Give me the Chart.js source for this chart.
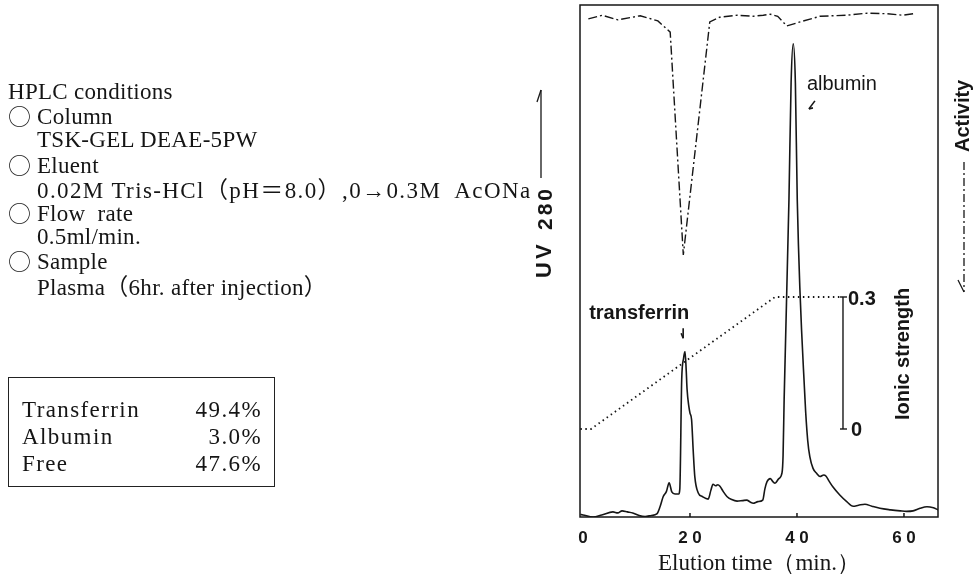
<!DOCTYPE html>
<html lang="en">
<head>
<meta charset="UTF-8">
<title>HPLC elution profile</title>
<script src="https://cdn.jsdelivr.net/npm/chart.js@4.4.1/dist/chart.umd.min.js"></script>
<style>
  body { margin: 0; background: #fff; }
  #wrap { position: relative; width: 975px; height: 580px; overflow: hidden; }
  #chart { position: absolute; left: 0; top: 0; }
  #conditions { position: absolute; left: 8px; top: 80px; font-family: "Liberation Serif", "Times New Roman", serif;
                font-size: 23px; line-height: 24.2px; color: #151515; letter-spacing: 0.3px; white-space: nowrap; }
  #conditions > div { height: 24.2px; overflow: visible; }
  #conditions .ind { padding-left: 29px; }
  #conditions .wide { letter-spacing: 1.4px; }
  .circ { display: inline-block; width: 29px; line-height: 1; vertical-align: -1px;
          font-family: "Noto Sans CJK JP", "DejaVu Sans", sans-serif; font-weight: 300; }
  .fw { font-family: "Noto Sans CJK JP", sans-serif; line-height: 1; }
  #result { position: absolute; left: 8px; top: 377px; width: 240px; padding: 18px 12px 9px 13px;
            border: 1.5px solid #222; font-family: "Liberation Serif", "Times New Roman", serif;
            font-size: 23px; line-height: 27px; color: #151515; letter-spacing: 1.4px; }
  #result .row { display: flex; justify-content: space-between; }
</style>
</head>
<body>
<div id="wrap">
  <canvas id="chart" width="975" height="580"></canvas>
  <div id="conditions">
    <div>HPLC conditions</div>
    <div><span class="circ">○</span>Column</div>
    <div class="ind">TSK-GEL DEAE-5PW</div>
    <div><span class="circ">○</span>Eluent</div>
    <div class="ind wide">0.02M Tris-HCl<span class="fw">（</span>pH<span class="fw">＝</span>8.0<span class="fw">）</span>,0→0.3M&nbsp; AcONa</div>
    <div><span class="circ">○</span>Flow&nbsp; rate</div>
    <div class="ind">0.5ml/min.</div>
    <div><span class="circ">○</span>Sample</div>
    <div class="ind">Plasma<span class="fw">（</span>6hr. after injection<span class="fw">）</span></div>
  </div>
  <div id="result"></div>
</div>

<script>
// UV 280 trace (elution time in min, absorbance in arbitrary units 0-100)
const uvTime = [-0.5, 0, 1.9, 3.5, 5.6, 6.5, 7.3, 8.3, 9.3, 10.5, 11.6, 12.8, 13.8, 14.4, 15.0, 15.6, 16.1, 16.6,
  17.2, 17.9, 18.1, 18.45, 18.8, 19.07, 19.3, 19.45, 19.8, 20.0, 20.3, 20.6, 20.9, 21.55, 22.3, 23.4, 23.9, 24.3,
  24.8, 25.2, 25.6, 26.2, 26.9, 27.8, 28.8, 29.8, 30.6, 31.3, 31.8, 32.7, 33.6, 34.0, 34.4, 35.0, 35.5, 35.9,
  36.6, 37.2, 37.4, 37.6, 38.5, 38.9, 39.3, 39.7, 40.05, 41.5, 42.0, 42.4, 43.0, 43.7, 44.3, 45.0, 45.4, 46.0,
  46.7, 48.0, 49.3, 50.5, 51.5, 52.7, 54.0, 55.5, 57.5, 59.3, 60.5, 61.7, 63.0, 64.3, 65.5, 66.4];
const uvSignal = [0.5, 0.4, 0, 0.4, 1.0, 0.8, 1.2, 1.0, 0.8, 0.3, 0.1, 0.3, 0.6, 2.0, 4.0, 5.0, 6.7, 4.9,
  4.5, 4.5, 5.5, 26.8, 31.0, 32.3, 28.5, 25.0, 21.5, 20.3, 19.0, 13.0, 7.9, 4.7, 4.0, 3.5, 5.2, 6.4,
  6.1, 6.3, 6.0, 5.0, 4.0, 3.4, 3.1, 3.2, 3.3, 2.9, 2.7, 3.0, 3.3, 5.5, 6.9, 7.5, 6.9, 6.6,
  7.5, 8.6, 12.0, 23.0, 62.0, 84.8, 92.4, 84.8, 62.0, 23.0, 15.0, 11.8, 9.5, 8.5, 7.9, 8.2, 8.0, 7.0,
  5.9, 4.3, 3.0, 2.1, 2.3, 2.5, 2.1, 1.7, 1.4, 1.2, 1.1, 1.2, 1.7, 2.0, 1.8, 1.4];

// enzyme activity trace (same arbitrary units, plotted downwards from the top)
const activityTime = [1.0, 3.6, 6.5, 10.7, 14.0, 16.3, 18.75, 23.7, 25.5, 28.8, 31.8, 33.7, 35.0, 36.4, 38.1,
  40.6, 44.3, 49.3, 53.1, 56.8, 59.8, 61.7];
const activitySignal = [97.3, 98.0, 97.1, 97.9, 96.9, 94.7, 51.2, 96.7, 97.6, 98.0, 97.8, 98.0, 98.2, 97.8, 95.9,
  96.7, 97.8, 98.0, 98.4, 98.3, 98.0, 98.3];

// AcONa gradient (ionic strength)
const ionicTime = [-0.5, 1.5, 35.9, 48.6];
const ionicStrength = [0, 0, 0.3, 0.3];

const xTickValues = [0, 20, 40, 60];
const xTickLabels = ['0', '2 0', '4 0', '6 0'];
const ionicTicks = [0, 0.3];
const ionicTickLabels = ['0', '0.3'];
const ionicBarAt = 48.6;

const resultLabels = ['Transferrin', 'Albumin', 'Free'];
const resultValues = ['49.4%', '3.0%', '47.6%'];

const box = document.getElementById('result');
resultLabels.forEach(function(name, i) {
  const row = document.createElement('div');
  row.className = 'row';
  row.innerHTML = '<span>' + name + '</span><span>' + resultValues[i] + '</span>';
  box.appendChild(row);
});

const ink = '#161616';
const sans = '"Liberation Sans", Arial, sans-serif';

function toPoints(xs, ys) {
  return xs.map(function(x, i) { return {x: x, y: ys[i]}; });
}

function spacedText(ctx, text, x, y, gap) {
  for (const ch of text) {
    ctx.fillText(ch, x, y);
    x += ctx.measureText(ch).width + gap;
  }
}

function line(ctx, x1, y1, x2, y2) {
  ctx.beginPath();
  ctx.moveTo(x1, y1);
  ctx.lineTo(x2, y2);
  ctx.stroke();
}

const decorations = {
  id: 'decorations',
  afterDraw(chart) {
    const ctx = chart.ctx;
    const a = chart.chartArea;
    const x = chart.scales.x, y = chart.scales.y, y2 = chart.scales.y2;
    ctx.save();
    ctx.strokeStyle = ink;
    ctx.fillStyle = ink;
    ctx.lineWidth = 1.5;
    ctx.strokeRect(a.left, a.top, a.right - a.left, a.bottom - a.top);

    // small inner ticks on the time axis
    xTickValues.forEach(function(v) {
      if (v === 0) return;
      const px = x.getPixelForValue(v);
      line(ctx, px, a.bottom, px, a.bottom - 4);
    });

    // ionic strength scale bar
    const bx = x.getPixelForValue(ionicBarAt);
    const yLo = y2.getPixelForValue(ionicTicks[0]);
    const yHi = y2.getPixelForValue(ionicTicks[1]);
    ctx.lineWidth = 1.4;
    line(ctx, bx, yLo, bx, yHi);
    line(ctx, bx - 3, yLo, bx + 4, yLo);
    line(ctx, bx - 3, yHi, bx + 4, yHi);
    ctx.font = 'bold 20px ' + sans;
    ctx.textBaseline = 'middle';
    ctx.textAlign = 'left';
    ctx.fillText(ionicTickLabels[1], bx + 5, yHi + 2);
    ctx.fillText(ionicTickLabels[0], bx + 8, yLo + 1);

    // peak names
    ctx.textAlign = 'center';
    ctx.font = 'bold 20px ' + sans;
    const tx = x.getPixelForValue(10.5), ty = y.getPixelForValue(39.8);
    ctx.fillText('transferrin', tx, ty);
    ctx.lineWidth = 1.6;
    line(ctx, tx + 44, ty + 15, tx + 44, ty + 25);
    line(ctx, tx + 42, ty + 20, tx + 44, ty + 25);
    ctx.font = '20px ' + sans;
    const ax = x.getPixelForValue(48.4), ay = y.getPixelForValue(84.4);
    ctx.fillText('albumin', ax, ay);
    line(ctx, ax - 27, ay + 16, ax - 33, ay + 24);
    line(ctx, ax - 33, ay + 24, ax - 29, ay + 23);

    // UV 280 label with arrow
    ctx.save();
    ctx.translate(a.left - 35, 278);
    ctx.rotate(-Math.PI / 2);
    ctx.textAlign = 'left';
    ctx.font = 'bold 22px ' + sans;
    spacedText(ctx, 'UV', 0, 0, 3);
    ctx.font = 'bold 21px ' + sans;
    spacedText(ctx, '280', 48, 1, 3);
    ctx.restore();
    ctx.lineWidth = 1.3;
    line(ctx, a.left - 39, 178, a.left - 39, 90);
    line(ctx, a.left - 39, 90, a.left - 43, 102);

    // Activity label with dash-dot arrow
    ctx.save();
    ctx.translate(a.right + 25, 152);
    ctx.rotate(-Math.PI / 2);
    ctx.textAlign = 'left';
    ctx.font = 'bold 20px ' + sans;
    ctx.fillText('Activity', 0, 0);
    ctx.restore();
    ctx.setLineDash([8, 3, 2, 3]);
    line(ctx, a.right + 26, 162, a.right + 26, 292);
    ctx.setLineDash([]);
    line(ctx, a.right + 26, 292, a.right + 20, 280);

    // Ionic strength label
    ctx.save();
    ctx.translate(x.getPixelForValue(ionicBarAt) + 60, 354);
    ctx.rotate(-Math.PI / 2);
    ctx.textAlign = 'center';
    ctx.font = 'bold 20px ' + sans;
    ctx.fillText('Ionic strength', 0, 0);
    ctx.restore();
    ctx.restore();
  }
};

new Chart(document.getElementById('chart'), {
  type: 'line',
  data: {
    datasets: [{
      label: 'UV 280',
      data: toPoints(uvTime, uvSignal),
      borderColor: ink,
      borderWidth: 1.6,
      pointRadius: 0,
      cubicInterpolationMode: 'monotone',
      yAxisID: 'y'
    }, {
      label: 'Activity',
      data: toPoints(activityTime, activitySignal),
      borderColor: ink,
      borderWidth: 1.4,
      borderDash: [9, 3, 2, 3],
      pointRadius: 0,
      tension: 0,
      yAxisID: 'y'
    }, {
      label: 'Ionic strength',
      data: toPoints(ionicTime, ionicStrength),
      borderColor: ink,
      borderWidth: 1.8,
      borderDash: [1.5, 3.5],
      pointRadius: 0,
      tension: 0,
      yAxisID: 'y2'
    }]
  },
  options: {
    responsive: false,
    animation: false,
    events: [],
    layout: { padding: { left: 580, right: 37, top: 5, bottom: 0 } },
    plugins: { legend: { display: false }, tooltip: { enabled: false } },
    scales: {
      x: {
        type: 'linear',
        min: -0.56,
        max: 66.36,
        afterFit: function(s) { s.height = 63; },
        afterBuildTicks: function(s) { s.ticks = xTickValues.map(function(v) { return {value: v}; }); },
        grid: { display: false },
        border: { display: false },
        ticks: {
          padding: 3,
          color: ink,
          autoSkip: false,
          maxRotation: 0,
          font: { family: sans, size: 17, weight: 'bold' },
          callback: function(v) { return xTickLabels[xTickValues.indexOf(v)]; }
        },
        title: {
          display: true,
          text: 'Elution time（min.）',
          color: ink,
          padding: { top: 0, bottom: 5 },
          font: { family: '"Liberation Serif", "Times New Roman", serif', size: 23, lineHeight: 1 }
        }
      },
      y: { display: false, min: 0, max: 100 },
      y2: { display: false, min: -0.2, max: 0.9636 }
    }
  },
  plugins: [decorations]
});
</script>
</body>
</html>
